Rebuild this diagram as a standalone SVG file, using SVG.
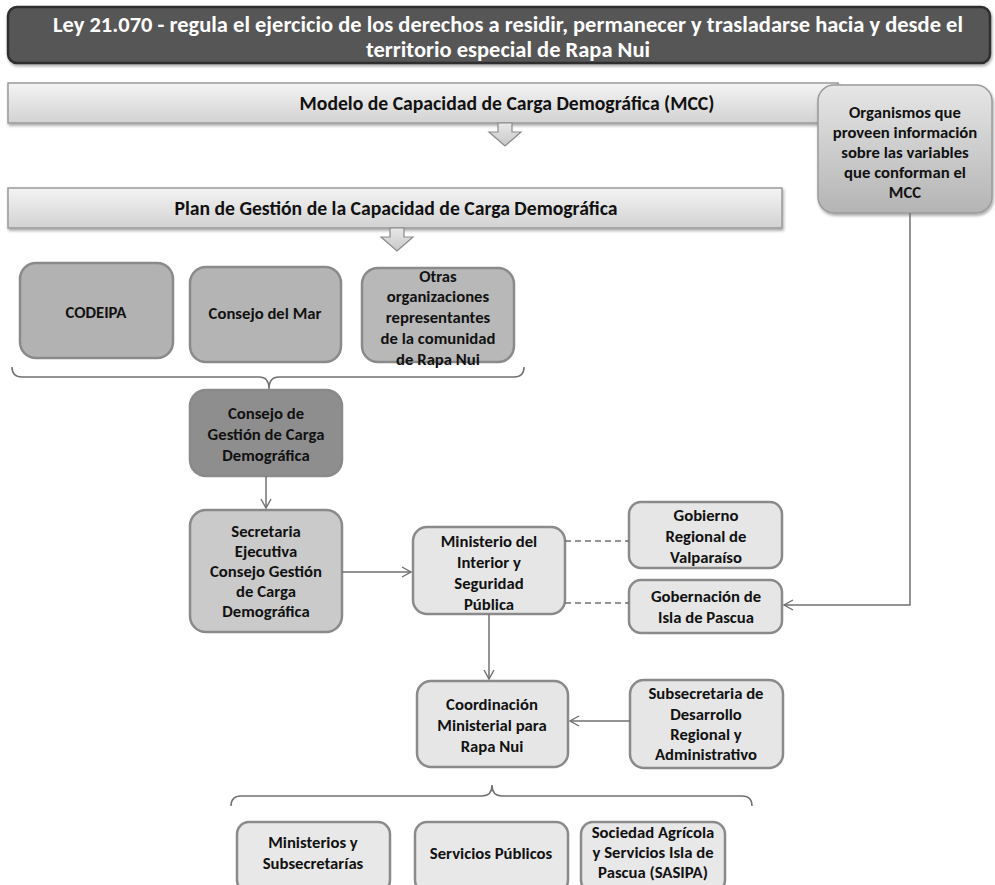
<svg xmlns="http://www.w3.org/2000/svg" width="995" height="885" viewBox="0 0 995 885">
<defs>
<linearGradient id="barG" x1="0" y1="0" x2="0" y2="1"><stop offset="0" stop-color="#f4f4f4"/><stop offset="1" stop-color="#d2d2d2"/></linearGradient>
<linearGradient id="orgG" x1="0" y1="0" x2="0" y2="1"><stop offset="0" stop-color="#e6e6e6"/><stop offset="1" stop-color="#b4b4b4"/></linearGradient>
<linearGradient id="arrG" x1="0" y1="0" x2="0" y2="1"><stop offset="0" stop-color="#e8e8e8"/><stop offset="1" stop-color="#c8c8c8"/></linearGradient>
<marker id="ah" markerWidth="12" markerHeight="12" refX="10" refY="6" orient="auto" markerUnits="userSpaceOnUse"><path d="M1,1 L10,6 L1,11" fill="none" stroke="#707070" stroke-width="1.4"/></marker>
<filter id="sh" x="-5%" y="-5%" width="110%" height="120%"><feDropShadow dx="1" dy="2" stdDeviation="1.5" flood-color="#000" flood-opacity="0.35"/></filter>
</defs>
<style>
text{font-family:Carlito,Lato,"Liberation Sans",sans-serif;font-weight:bold;text-anchor:middle;fill:#111}
.b{stroke:#8a8a8a;stroke-width:2.5}
.t{font-size:16.7px}
.o{font-size:16.7px}
.h{font-size:19.7px}
.ti{font-size:22.5px;fill:#fff}
.conn{fill:none;stroke:#707070;stroke-width:1.5}
.dash{stroke-dasharray:6,4}
</style>
<rect width="995" height="885" fill="#ffffff"/>

<g id="title">
<rect x="8" y="7" width="982" height="56" rx="9" fill="#575757" stroke="#2e2e2e" stroke-width="2.5" filter="url(#sh)"/>
<text class="ti" x="508" y="32">Ley 21.070 - regula el ejercicio de los derechos a residir, permanecer y trasladarse hacia y desde el</text>
<text class="ti" x="508" y="57">territorio especial de Rapa Nui</text>
</g>

<g id="mcc">
<rect x="8" y="83" width="830" height="40" fill="url(#barG)" stroke="#9a9a9a" stroke-width="1.5" filter="url(#sh)"/>
<text class="h" x="507" y="110">Modelo de Capacidad de Carga Demográfica (MCC)</text>
<path d="M498,123 L512,123 L512,132 L521,132 L505,146 L489,132 L498,132 Z" fill="url(#arrG)" stroke="#8a8a8a" stroke-width="1.2"/>
</g>

<g id="plan">
<rect x="8" y="188" width="774" height="40" fill="url(#barG)" stroke="#9a9a9a" stroke-width="1.5" filter="url(#sh)"/>
<text class="h" x="396" y="215">Plan de Gestión de la Capacidad de Carga Demográfica</text>
<path d="M390,228 L404,228 L404,237 L413,237 L397,251 L381,237 L390,237 Z" fill="url(#arrG)" stroke="#8a8a8a" stroke-width="1.2"/>
</g>

<g id="organismos">
<rect x="818" y="85" width="174" height="128" rx="16" fill="url(#orgG)" stroke="#9a9a9a" stroke-width="1.5" filter="url(#sh)"/>
<text class="o" x="905" y="118">Organismos que</text>
<text class="o" x="905" y="138">proveen información</text>
<text class="o" x="905" y="158">sobre las variables</text>
<text class="o" x="905" y="178">que conforman el</text>
<text class="o" x="905" y="198">MCC</text>
</g>

<g id="codeipa">
<rect class="b" x="20" y="263" width="153" height="95" rx="16" fill="#b2b2b2"/>
<text class="t" x="96" y="318">CODEIPA</text>
</g>
<g id="consejo-mar">
<rect class="b" x="190" y="267" width="151" height="95" rx="16" fill="#b4b4b4"/>
<text class="t" x="265" y="319">Consejo del Mar</text>
</g>
<g id="otras">
<rect class="b" x="362" y="268" width="152" height="94" rx="16" fill="#b8b8b8"/>
<text class="t" x="438" y="282">Otras</text>
<text class="t" x="438" y="302">organizaciones</text>
<text class="t" x="438" y="323">representantes</text>
<text class="t" x="438" y="344">de la comunidad</text>
<text class="t" x="438" y="365">de Rapa Nui</text>
</g>

<g id="consejo-gestion">
<rect class="b" x="190" y="390" width="152" height="86" rx="16" fill="#8e8e8e"/>
<text class="t" x="266" y="419">Consejo de</text>
<text class="t" x="266" y="440">Gestión de Carga</text>
<text class="t" x="266" y="461">Demográfica</text>
</g>

<g id="secretaria">
<rect class="b" x="190" y="510" width="152" height="122" rx="16" fill="#cacaca"/>
<text class="t" x="266" y="537">Secretaria</text>
<text class="t" x="266" y="557">Ejecutiva</text>
<text class="t" x="266" y="577">Consejo Gestión</text>
<text class="t" x="266" y="597">de Carga</text>
<text class="t" x="266" y="617">Demográfica</text>
</g>

<g id="ministerio">
<rect class="b" x="413" y="527" width="152" height="87" rx="14" fill="#e6e6e6"/>
<text class="t" x="489" y="547">Ministerio del</text>
<text class="t" x="489" y="568">Interior y</text>
<text class="t" x="489" y="589">Seguridad</text>
<text class="t" x="489" y="610">Pública</text>
</g>

<g id="gobierno">
<rect class="b" x="629" y="502" width="153" height="66" rx="12" fill="#e6e6e6"/>
<text class="t" x="706" y="521">Gobierno</text>
<text class="t" x="706" y="542">Regional de</text>
<text class="t" x="706" y="563">Valparaíso</text>
</g>

<g id="gobernacion">
<rect class="b" x="629" y="580" width="153" height="53" rx="12" fill="#e6e6e6"/>
<text class="t" x="706" y="602">Gobernación de</text>
<text class="t" x="706" y="623">Isla de Pascua</text>
</g>

<g id="coordinacion">
<rect class="b" x="417" y="681" width="151" height="86" rx="14" fill="#e6e6e6"/>
<text class="t" x="492" y="710">Coordinación</text>
<text class="t" x="492" y="731">Ministerial para</text>
<text class="t" x="492" y="752">Rapa Nui</text>
</g>

<g id="subsecretaria">
<rect class="b" x="630" y="680" width="153" height="88" rx="14" fill="#e6e6e6"/>
<text class="t" x="706" y="699">Subsecretaria de</text>
<text class="t" x="706" y="720">Desarrollo</text>
<text class="t" x="706" y="740">Regional y</text>
<text class="t" x="706" y="760">Administrativo</text>
</g>

<g id="ministerios">
<rect class="b" x="237" y="822" width="153" height="70" rx="12" fill="#e8e8e8"/>
<text class="t" x="313" y="848">Ministerios y</text>
<text class="t" x="313" y="869">Subsecretarías</text>
</g>
<g id="servicios">
<rect class="b" x="415" y="822" width="153" height="70" rx="12" fill="#e8e8e8"/>
<text class="t" x="491" y="859">Servicios Públicos</text>
</g>
<g id="sasipa">
<rect class="b" x="581" y="822" width="144" height="70" rx="12" fill="#e8e8e8"/>
<text class="t" x="653" y="838">Sociedad Agrícola</text>
<text class="t" x="653" y="858">y Servicios Isla de</text>
<text class="t" x="653" y="878">Pascua (SASIPA)</text>
</g>

<g id="connectors">
<path class="conn" d="M12,367 Q12,377 22,377 L259,377 Q269,377 269,389 Q269,377 279,377 L514,377 Q524,377 524,367"/>
<path class="conn" d="M266,476 L266,508" marker-end="url(#ah)"/>
<path class="conn" d="M342,572 L411,572" marker-end="url(#ah)"/>
<path class="conn dash" d="M565,541 L629,541"/>
<path class="conn dash" d="M565,603 L629,603"/>
<path class="conn" d="M910,213 L910,605 L784,605" marker-end="url(#ah)"/>
<path class="conn" d="M489,614 L489,679" marker-end="url(#ah)"/>
<path class="conn" d="M630,721 L570,721" marker-end="url(#ah)"/>
<path class="conn" d="M231,806 Q231,796 241,796 L482,796 Q492,796 492,785 Q492,796 502,796 L742,796 Q752,796 752,806"/>
</g>
</svg>
